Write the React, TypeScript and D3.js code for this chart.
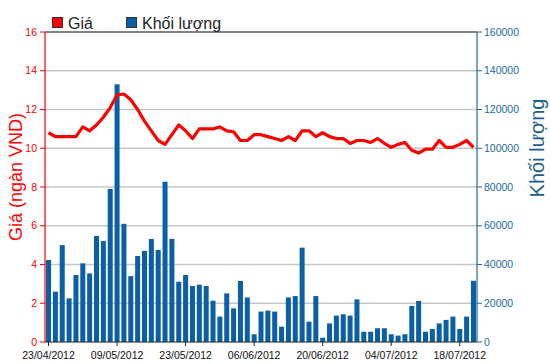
import React from "react";
import * as d3 from "d3";

// trading days 23/04/2012 - 20/07/2012
const dates = [
  "23/04/2012", "24/04/2012", "25/04/2012", "26/04/2012", "27/04/2012",
  "02/05/2012", "03/05/2012", "04/05/2012", "07/05/2012", "08/05/2012",
  "09/05/2012", "10/05/2012", "11/05/2012", "14/05/2012", "15/05/2012",
  "16/05/2012", "17/05/2012", "18/05/2012", "21/05/2012", "22/05/2012",
  "23/05/2012", "24/05/2012", "25/05/2012", "28/05/2012", "29/05/2012",
  "30/05/2012", "31/05/2012", "01/06/2012", "04/06/2012", "05/06/2012",
  "06/06/2012", "07/06/2012", "08/06/2012", "11/06/2012", "12/06/2012",
  "13/06/2012", "14/06/2012", "15/06/2012", "18/06/2012", "19/06/2012",
  "20/06/2012", "21/06/2012", "22/06/2012", "25/06/2012", "26/06/2012",
  "27/06/2012", "28/06/2012", "29/06/2012", "02/07/2012", "03/07/2012",
  "04/07/2012", "05/07/2012", "06/07/2012", "09/07/2012", "10/07/2012",
  "11/07/2012", "12/07/2012", "13/07/2012", "16/07/2012", "17/07/2012",
  "18/07/2012", "19/07/2012", "20/07/2012",
];

// giá (ngàn VND)
const price = [
  10.8, 10.6, 10.6, 10.6, 10.6, 11.1, 10.9, 11.2, 11.6, 12.1,
  12.75, 12.8, 12.5, 12.0, 11.4, 10.9, 10.4, 10.2, 10.7, 11.2,
  10.9, 10.5, 11.0, 11.0, 11.0, 11.1, 10.9, 10.85, 10.4, 10.4,
  10.7, 10.7, 10.6, 10.5, 10.4, 10.6, 10.4, 10.9, 10.9, 10.6,
  10.8, 10.6, 10.5, 10.5, 10.25, 10.4, 10.4, 10.3, 10.5, 10.25,
  10.05, 10.2, 10.3, 9.9, 9.75, 9.95, 9.95, 10.4, 10.05, 10.05,
  10.2, 10.4, 10.05,
];

// khối lượng
const volume = [
  42300, 26000, 50000, 22500, 34600, 40600, 35400, 54700, 52100, 79000,
  133000, 61000, 34000, 44400, 47000, 53200, 47500, 82700, 53200, 31100,
  34600, 28900, 29600, 28900, 21300, 13100, 25100, 17400, 31500, 23000,
  4000, 15700, 16200, 15700, 7900, 23000, 23700, 48700, 10500, 23700,
  2200, 9600, 13600, 14300, 13600, 22000, 5300, 5300, 7100, 7100,
  4000, 3300, 4000, 18600, 21200, 5300, 6700, 9600, 11400, 13100,
  6700, 13100, 31600,
];

const tickDates = ["23/04/2012", "09/05/2012", "23/05/2012", "06/06/2012", "20/06/2012", "04/07/2012", "18/07/2012"];
const priceTicks = [0, 2, 4, 6, 8, 10, 12, 14, 16];
const volumeTicks = [0, 20000, 40000, 60000, 80000, 100000, 120000, 140000, 160000];

const W = 550;
const H = 364;
const left = 45;
const right = 477;
const top = 32;
const bottom = 342;

const font = "'Liberation Sans', Arial, sans-serif";
const red = "#ff0000";
const blue = "#0a5fa6";
const axisBlue = "#1c6aa3";

export default function App() {
  const x = d3.scaleBand<string>().domain(dates).range([left, right]).paddingInner(0.27).paddingOuter(0.15);
  const yP = d3.scaleLinear().domain([0, 16]).range([bottom, top]);
  const yV = d3.scaleLinear().domain([0, 160000]).range([bottom, top]);
  const cx = (d: string) => (x(d) ?? 0) + x.bandwidth() / 2;

  const line = d3
    .line<number>()
    .x((_, i) => cx(dates[i]))
    .y((d) => yP(d));

  return (
    <svg width={W} height={H} style={{ position: "absolute", left: 0, top: 0, background: "#fff" }} fontFamily={font}>
      {/* grid */}
      {priceTicks.slice(1, -1).map((t) => (
        <line key={t} x1={left} x2={right} y1={yP(t)} y2={yP(t)} stroke="#c6c6c6" strokeWidth={1.5} />
      ))}
      <line x1={left} x2={right} y1={top} y2={top} stroke="#5a5a5a" strokeWidth={1.6} />

      {/* bars */}
      {volume.map((v, i) => (
        <rect
          key={i}
          x={x(dates[i])}
          y={yV(v)}
          width={x.bandwidth()}
          height={bottom - yV(v)}
          fill={blue}
        />
      ))}

      {/* price line */}
      <path d={line(price) ?? ""} fill="none" stroke={red} strokeWidth={3.2} strokeLinejoin="round" />

      {/* bottom axis */}
      <line x1={left} x2={right} y1={bottom} y2={bottom} stroke="#222" strokeWidth={1.2} />
      {tickDates.map((d) => (
        <g key={d} transform={`translate(${cx(d)},${bottom})`}>
          <line y1={0} y2={4} stroke="#222" />
          <text y={17} textAnchor="middle" fontSize={10.5} fill="#111">
            {d}
          </text>
        </g>
      ))}

      {/* left axis */}
      <line x1={left} x2={left} y1={top} y2={bottom} stroke={red} strokeWidth={1.2} />
      {priceTicks.map((t) => (
        <g key={t} transform={`translate(${left},${yP(t)})`}>
          <line x1={-5} x2={0} stroke={red} />
          <text x={-8} dy="0.35em" textAnchor="end" fontSize={10.5} fill={red}>
            {t}
          </text>
        </g>
      ))}
      <text transform="translate(22,177) rotate(-90)" textAnchor="middle" fontSize={18} fill={red}>
        Giá (ngàn VND)
      </text>

      {/* right axis */}
      <line x1={right} x2={right} y1={top} y2={bottom} stroke={axisBlue} strokeWidth={1.2} />
      {volumeTicks.map((t) => (
        <g key={t} transform={`translate(${right},${yV(t)})`}>
          <line x1={0} x2={5} stroke={axisBlue} />
          <text x={7} dy="0.35em" fontSize={10.5} fill={axisBlue}>
            {t}
          </text>
        </g>
      ))}
      <text transform="translate(544,148) rotate(-90)" textAnchor="middle" fontSize={20} fill="#1b5e8c">
        Khối lượng
      </text>

      {/* legend */}
      <rect x={52.5} y={17.5} width={10} height={10} fill={red} stroke="#333" />
      <text x={68} y={29} fontSize={16} fill="#222">
        Giá
      </text>
      <rect x={126.5} y={17.5} width={10} height={10} fill={blue} stroke="#333" />
      <text x={142} y={29} fontSize={16} fill="#222">
        Khối lượng
      </text>
    </svg>
  );
}
